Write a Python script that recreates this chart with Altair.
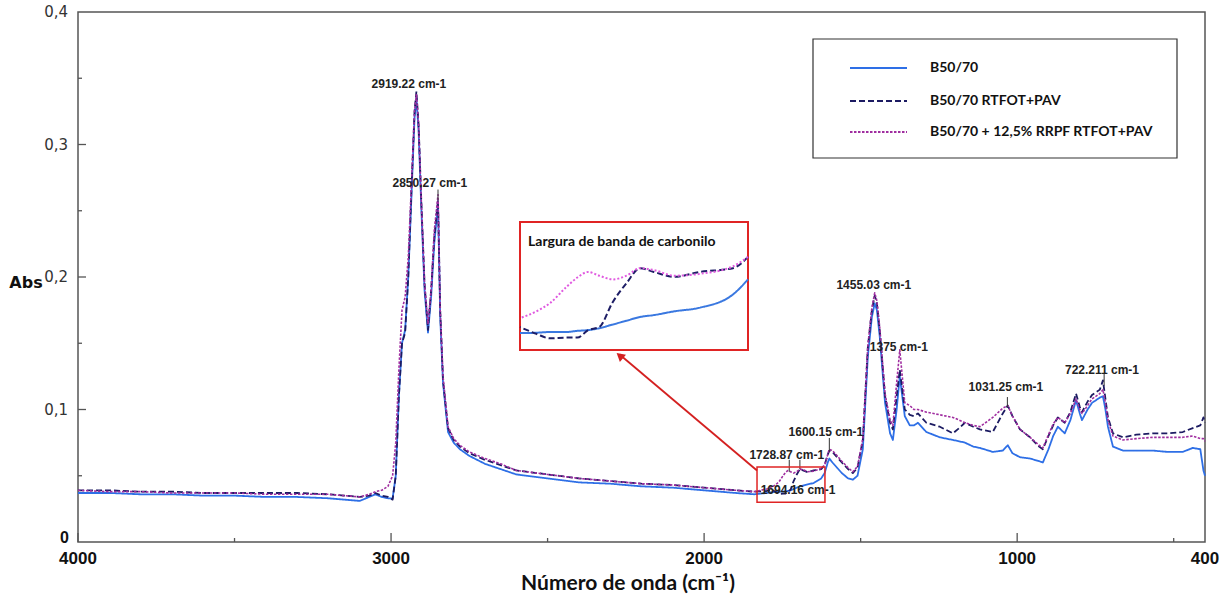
import altair as alt
import pandas as pd

# ---------------- data ----------------
wavenumber = [4000, 3900, 3800, 3700, 3600, 3500, 3400, 3300, 3200, 3150, 3100, 3070, 3050, 3030, 3010,
              2995, 2985, 2975, 2965, 2955, 2945, 2935, 2925, 2919, 2912, 2903, 2893, 2882, 2872, 2862,
              2850, 2843, 2834, 2818, 2800, 2780, 2750, 2700, 2650, 2600, 2500, 2400, 2300, 2200, 2100,
              2000, 1900, 1840, 1800, 1782, 1770, 1760, 1748, 1740, 1732, 1724, 1714, 1704, 1694, 1684,
              1669, 1650, 1626, 1615, 1605, 1600, 1590, 1575, 1560, 1540, 1525, 1510, 1493, 1477, 1464,
              1455, 1448, 1439, 1422, 1406, 1397, 1385, 1375, 1367, 1359, 1343, 1330, 1317, 1290, 1247,
              1205, 1185, 1167, 1140, 1119, 1078, 1046, 1030, 1015, 991, 959, 930, 918, 900, 885,
              870, 848, 830, 812, 800, 793, 775, 761, 736, 726, 718, 710, 694, 662, 620,
              567, 520, 471, 439, 415, 405, 400]

b5070 = [0.037, 0.037, 0.036, 0.036, 0.035, 0.035, 0.034, 0.034, 0.033, 0.032, 0.031, 0.034, 0.036, 0.034, 0.033,
         0.033, 0.050, 0.110, 0.150, 0.160, 0.200, 0.260, 0.320, 0.335, 0.310, 0.250, 0.190, 0.158, 0.185, 0.225,
         0.255, 0.170, 0.120, 0.083, 0.075, 0.070, 0.065, 0.059, 0.055, 0.051, 0.048, 0.045, 0.044, 0.042, 0.041,
         0.039, 0.037, 0.036, 0.037, 0.0377, 0.0378, 0.038, 0.038, 0.0383, 0.0385, 0.039, 0.040, 0.041, 0.042, 0.0425,
         0.0435, 0.0445, 0.048, 0.052, 0.060, 0.063, 0.060, 0.056, 0.052, 0.048, 0.047, 0.050, 0.070, 0.140, 0.170,
         0.180, 0.175, 0.155, 0.105, 0.082, 0.077, 0.100, 0.125, 0.110, 0.095, 0.088, 0.088, 0.090, 0.083, 0.079,
         0.077, 0.076, 0.075, 0.072, 0.071, 0.068, 0.069, 0.073, 0.067, 0.064, 0.063, 0.061, 0.060, 0.070, 0.080,
         0.087, 0.082, 0.092, 0.107, 0.097, 0.092, 0.100, 0.105, 0.109, 0.110, 0.100, 0.087, 0.072, 0.069, 0.069,
         0.069, 0.068, 0.068, 0.071, 0.070, 0.054, 0.050]

b5070_rtfot_pav = [0.039, 0.039, 0.038, 0.038, 0.037, 0.037, 0.037, 0.037, 0.036, 0.035, 0.034, 0.035, 0.037, 0.035, 0.034,
                   0.032, 0.050, 0.110, 0.150, 0.158, 0.200, 0.265, 0.325, 0.340, 0.315, 0.255, 0.195, 0.160, 0.190, 0.230,
                   0.258, 0.175, 0.122, 0.086, 0.077, 0.072, 0.067, 0.062, 0.058, 0.054, 0.051, 0.048, 0.046, 0.044, 0.043,
                   0.041, 0.039, 0.038, 0.0385, 0.0393, 0.0375, 0.0363, 0.0365, 0.0365, 0.0385, 0.0393, 0.046, 0.051, 0.055, 0.054,
                   0.0527, 0.054, 0.055, 0.058, 0.066, 0.069, 0.068, 0.064, 0.060, 0.055, 0.052, 0.056, 0.077, 0.147, 0.175,
                   0.186, 0.180, 0.160, 0.110, 0.090, 0.085, 0.110, 0.130, 0.115, 0.100, 0.096, 0.095, 0.097, 0.090, 0.087,
                   0.082, 0.086, 0.090, 0.087, 0.085, 0.083, 0.097, 0.103, 0.095, 0.085, 0.079, 0.072, 0.070, 0.080, 0.088,
                   0.094, 0.090, 0.098, 0.112, 0.102, 0.098, 0.106, 0.111, 0.115, 0.122, 0.108, 0.094, 0.082, 0.079, 0.081,
                   0.082, 0.082, 0.083, 0.086, 0.088, 0.094, 0.090]

b5070_rrpf = [0.039, 0.038, 0.038, 0.037, 0.037, 0.037, 0.036, 0.036, 0.036, 0.035, 0.034, 0.036, 0.038, 0.039, 0.042,
              0.050, 0.075, 0.130, 0.175, 0.185, 0.215, 0.270, 0.325, 0.338, 0.315, 0.255, 0.195, 0.165, 0.190, 0.235,
              0.262, 0.175, 0.125, 0.087, 0.078, 0.073, 0.068, 0.063, 0.059, 0.054, 0.051, 0.048, 0.046, 0.044, 0.043,
              0.041, 0.039, 0.038, 0.040, 0.0417, 0.0435, 0.0457, 0.050, 0.0525, 0.054, 0.053, 0.052, 0.053, 0.055, 0.0545,
              0.053, 0.0535, 0.0555, 0.058, 0.066, 0.070, 0.069, 0.065, 0.061, 0.056, 0.053, 0.057, 0.078, 0.148, 0.177,
              0.188, 0.182, 0.162, 0.112, 0.092, 0.088, 0.120, 0.145, 0.125, 0.105, 0.103, 0.100, 0.100, 0.098, 0.096,
              0.094, 0.092, 0.090, 0.088, 0.087, 0.094, 0.101, 0.103, 0.095, 0.085, 0.079, 0.073, 0.071, 0.081, 0.089,
              0.094, 0.090, 0.097, 0.108, 0.100, 0.097, 0.103, 0.108, 0.112, 0.115, 0.105, 0.092, 0.080, 0.077, 0.078,
              0.079, 0.079, 0.079, 0.080, 0.078, 0.078, 0.076]

series_names = ["B50/70", "B50/70 RTFOT+PAV", "B50/70 + 12,5% RRPF RTFOT+PAV"]
series_values = [b5070, b5070_rtfot_pav, b5070_rrpf]

peak_labels = ["2919.22 cm-1", "2850.27 cm-1", "1455.03 cm-1", "1375 cm-1", "1031.25 cm-1",
               "722.211 cm-1", "1600.15 cm-1", "1728.87 cm-1", "1694.16 cm-1"]
peak_label_w = [2943, 2876, 1458, 1378, 1036, 729, 1611, 1736, 1700]
peak_label_abs = [0.346, 0.271, 0.194, 0.147, 0.117, 0.130, 0.083, 0.066, 0.039]

leader_w = [2850, 1600, 1728, 1694, 1031.25, 722.211]
leader_top = [0.266, 0.0785, 0.062, 0.062, 0.1094, 0.127]
leader_bottom = [0.258, 0.068, 0.053, 0.055, 0.1019, 0.118]

x_major = [4000, 3000, 2000, 1000]
x_minor = [3500, 2500, 1500, 500]
y_major = [0.1, 0.2, 0.3]
y_minor = [0.05, 0.15, 0.25, 0.35]

x_tick_labels = ["4000", "3000", "2000", "1000", "400"]
x_tick_values = [4000, 3000, 2000, 1000, 400]
y_tick_labels = ["0,1", "0,2", "0,3", "0,4"]
y_tick_values = [0.1, 0.2, 0.3, 0.4]

x_title = "Número de onda (cm⁻¹)"
y_title = "Abs"

# zoomed band shown in the inset (wavenumber, absorbance window)
inset_w = [1782, 1615]
inset_abs = [0.0332, 0.0673]

# ---------------- styles ----------------
colors = ["#2e6fe6", "#1c1b62", "#a02ea0"]
inset_colors = ["#3a78e0", "#1e1e66", "#e05ae0"]
dashes = [[1, 0], [6, 3], [2.5, 1.5]]
widths = [1.8, 1.8, 1.6]

W, H = 1127, 530
X0, X1 = 4000, 400
Y0, Y1 = 0, 0.4
# inset placement in plot pixels
IX0, IX1, IY0, IY1 = 442, 670, 338, 210

df = pd.DataFrame({"w": wavenumber})
for n, v in zip(series_names, series_values):
    df[n] = v
long = df.melt(id_vars="w", var_name="serie", value_name="abs")

xscale = alt.Scale(domain=[X0, X1], nice=False, zero=False)
yscale = alt.Scale(domain=[Y0, Y1], nice=False, zero=False)

one = pd.DataFrame({"k": [0]})


def X(field=None, **kw):
    return alt.X(field, scale=xscale, axis=None, **kw) if field else alt.X(scale=xscale, axis=None, **kw)


def Y(field=None, **kw):
    return alt.Y(field, scale=yscale, axis=None, **kw) if field else alt.Y(scale=yscale, axis=None, **kw)


# main spectra
line_layers = []
for n, c, d, sw in zip(series_names, colors, dashes, widths):
    line_layers.append(
        alt.Chart(long[long.serie == n]).mark_line(color=c, strokeDash=d, strokeWidth=sw, strokeJoin="round")
        .encode(x=X("w:Q"), y=Y("abs:Q"))
    )

# inset frame (white background, red border), placed through the main scales
px_to_w = lambda px: X0 - px * (X0 - X1) / W
py_to_abs = lambda py: (H - py) / H * (Y1 - Y0)
inset_frame = alt.Chart(one).mark_rect(fill="white", stroke="#e02424", strokeWidth=2).encode(
    x=X(datum=px_to_w(IX0)), x2=alt.X2(datum=px_to_w(IX1)),
    y=Y(datum=py_to_abs(IY0)), y2=alt.Y2(datum=py_to_abs(IY1)),
)

# inset curves: the same data, re-mapped onto the inset window
kx = (IX1 - IX0) / (inset_w[0] - inset_w[1])
ky = (IY0 - IY1) / (inset_abs[1] - inset_abs[0])
inset_data = long[(long.w <= inset_w[0]) & (long.w >= inset_w[1])]
inset_layers = []
for n, c, d in zip(series_names, inset_colors, [[1, 0], [6, 3], [2, 2]]):
    inset_layers.append(
        alt.Chart(inset_data[inset_data.serie == n])
        .transform_calculate(
            ipx=f"{IX0} + ({inset_w[0]} - datum.w) * {kx}",
            ipy=f"{IY0} - (datum.abs - {inset_abs[0]}) * {ky}",
        )
        .transform_calculate(
            iw=f"{X0} - datum.ipx * {(X0 - X1) / W}",
            ia=f"({H} - datum.ipy) / {H} * {Y1 - Y0}",
        )
        .mark_line(color=c, strokeDash=d, strokeWidth=2, interpolate="monotone")
        .encode(x=X("iw:Q"), y=Y("ia:Q"), order="w:Q")
    )

# inward ticks
tick_x_major = alt.Chart(pd.DataFrame({"w": x_major})).mark_rule(color="#555", strokeWidth=1.3).encode(
    x=X("w:Q"), y=alt.value(H), y2=alt.value(H - 9))
tick_x_minor = alt.Chart(pd.DataFrame({"w": x_minor})).mark_rule(color="#555", strokeWidth=1.3).encode(
    x=X("w:Q"), y=alt.value(H), y2=alt.value(H - 4))
tick_y_major = alt.Chart(pd.DataFrame({"abs": y_major})).mark_rule(color="#555", strokeWidth=1.3).encode(
    y=Y("abs:Q"), x=alt.value(0), x2=alt.value(8))
tick_y_minor = alt.Chart(pd.DataFrame({"abs": y_minor})).mark_rule(color="#555", strokeWidth=1.3).encode(
    y=Y("abs:Q"), x=alt.value(0), x2=alt.value(4))

# tick labels and axis titles
x_labels = alt.Chart(pd.DataFrame({"w": x_tick_values, "t": x_tick_labels})).mark_text(
    font="Liberation Sans", fontWeight="bold", fontSize=17, color="#111", align="center", baseline="middle"
).encode(x=X("w:Q"), y=alt.value(H + 17), text="t:N")
y_labels = alt.Chart(pd.DataFrame({"abs": y_tick_values, "t": y_tick_labels})).mark_text(
    font="DejaVu Sans", fontSize=15, color="#333", align="right", baseline="middle"
).encode(y=Y("abs:Q"), x=alt.value(-10), text="t:N")
y_zero = alt.Chart(one).mark_text(
    text="0", font="Liberation Sans", fontWeight="bold", fontSize=16, color="#111", align="right",
    baseline="middle", dy=-4
).encode(y=Y(datum=0), x=alt.value(-9))
x_title_mark = alt.Chart(one).mark_text(
    text=x_title, font="Lato", fontWeight="bold", fontSize=21, color="#111", align="center", baseline="middle"
).encode(x=alt.value(550), y=alt.value(H + 42))
y_title_mark = alt.Chart(one).mark_text(
    text=y_title, font="DejaVu Sans", fontWeight="bold", fontSize=16, color="#111", align="center", baseline="middle"
).encode(x=alt.value(-52), y=alt.value(271))

# peak annotations
ann_df = pd.DataFrame({"w": peak_label_w, "abs": peak_label_abs, "label": peak_labels})
annotations = alt.Chart(ann_df).mark_text(
    font="Liberation Sans", fontWeight="bold", fontSize=12, color="#222", baseline="middle", align="center"
).encode(x=X("w:Q"), y=Y("abs:Q"), text="label:N")

lead_df = pd.DataFrame({"w": leader_w, "a1": leader_top, "a2": leader_bottom})
leaders = alt.Chart(lead_df).mark_rule(color="#333", strokeWidth=1).encode(
    x=X("w:Q"), y=Y("a1:Q"), y2="a2:Q")

# red box around the carbonyl band and the arrow to the inset
red_box = alt.Chart(one).mark_rect(fillOpacity=0, stroke="#e02424", strokeWidth=1.5).encode(
    x=X(datum=1831), x2=alt.X2(datum=1614), y=Y(datum=0.0566), y2=alt.Y2(datum=0.030),
)
arrow_line = alt.Chart(one).mark_rule(color="#d42020", strokeWidth=1.8).encode(
    x=X(datum=1831), x2=alt.X2(datum=2270), y=Y(datum=0.054), y2=alt.Y2(datum=0.1415),
)
arrow_head = alt.Chart(one).mark_point(shape="triangle", filled=True, color="#d42020", size=90, angle=310, opacity=1).encode(
    x=X(datum=2266), y=Y(datum=0.1400))

inset_title = alt.Chart(one).mark_text(
    text="Largura de banda de carbonilo", font="Lato", fontWeight="bold", fontSize=14, color="#111",
    align="left", baseline="middle").encode(x=alt.value(450), y=alt.value(230))

# legend
legend_box = alt.Chart(one).mark_rect(fill="white", stroke="#333", strokeWidth=1.2).encode(
    x=alt.value(735), x2=alt.value(1099), y=alt.value(27), y2=alt.value(146))
legend_layers = [legend_box]
for i, (n, c, d) in enumerate(zip(series_names, colors, dashes)):
    yy = [56, 89, 120][i]
    legend_layers.append(alt.Chart(one).mark_rule(color=c, strokeDash=d, strokeWidth=2.2).encode(
        x=alt.value(772), x2=alt.value(829), y=alt.value(yy)))
    legend_layers.append(alt.Chart(one).mark_text(
        text=n, font="Lato", fontWeight="bold", fontSize=14, color="#111", align="left", baseline="middle"
    ).encode(x=alt.value(852), y=alt.value(yy)))

chart = alt.layer(
    *line_layers, inset_frame, *inset_layers, tick_x_major, tick_x_minor, tick_y_major, tick_y_minor,
    x_labels, y_labels, y_zero, x_title_mark, y_title_mark,
    leaders, annotations, red_box, arrow_line, arrow_head, inset_title, *legend_layers
).properties(
    width=W, height=H,
    padding={"left": 78, "top": 12, "right": 25, "bottom": 55},
    autosize=alt.AutoSizeParams(type="none"),
    background="white",
).configure_view(stroke="#555", strokeWidth=1.5)

chart.save("out.html", embed_options={"renderer": "svg", "actions": False})
